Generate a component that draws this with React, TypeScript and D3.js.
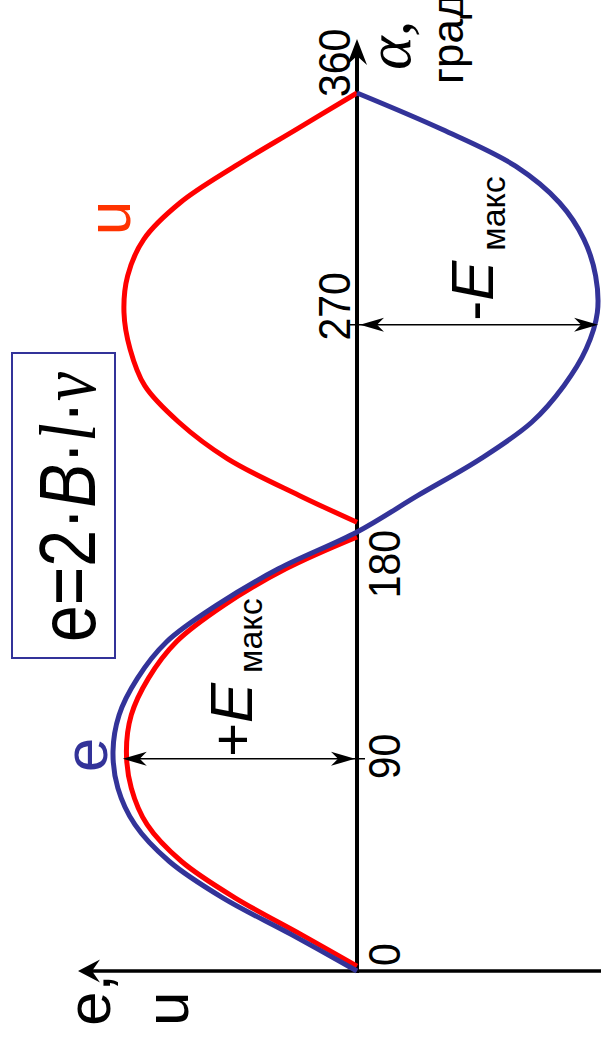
import React from "react";
import * as d3 from "d3";

// ---- data (angle in degrees, value in units of E max) ----
const eAngles = [0, 15, 30, 45, 60, 75, 90, 105, 120, 135, 150, 165, 180, 195, 210, 225, 240, 255, 270, 285, 300, 315, 330, 345, 360];
const eValues = [0, 0.27, 0.55, 0.77, 0.91, 0.98, 1.0, 0.975, 0.9, 0.78, 0.575, 0.32, 0, -0.25, -0.506, -0.716, -0.848, -0.939, -0.985, -0.978, -0.93, -0.83, -0.65, -0.35, 0];

const uAngles1 = [2, 15, 30, 45, 60, 75, 90, 105, 120, 135, 150, 165, 178];
const uValues1 = [0, 0.23, 0.5, 0.72, 0.86, 0.925, 0.945, 0.925, 0.855, 0.74, 0.545, 0.29, 0];

const uAngles2 = [184, 195, 210, 225, 240, 255, 270, 285, 300, 315, 330, 345, 360];
const uValues2 = [0, 0.237, 0.53, 0.73, 0.87, 0.93, 0.955, 0.94, 0.874, 0.725, 0.5, 0.25, 0];

const tickValues = [0, 90, 180, 270, 360];
const tickLabels = ["0", "90", "180", "270", "360"];
const tickSide = ["right", "right", "right", "left", "left"];
const tickAnchor = ["start", "middle", "end", "middle", "start"];
const tickShift = [-5, 5, -2, -6, 4];

// amplitude annotations
const ampAngles = [87, 265];
const ampValues = [0.96, -0.988];
const ampSigns = ["+", "-"];

const BLUE = "#333399";
const RED = "#ff0000";
const ORANGE = "#ff3300";
const SANS = "'Liberation Sans', Arial, Helvetica, sans-serif";
const SERIF = "'Liberation Serif', 'Times New Roman', serif";

const W = 601;
const H = 1041;

const yA = d3.scaleLinear().domain([0, 360]).range([971, 93]);
const xV = d3.scaleLinear().domain([-1, 1]).range([601, 113]);

function arrowHead(tx: number, ty: number, dx: number, dy: number, len: number, hw: number, notch: number) {
  const px = -dy, py = dx;
  const bx = tx - dx * len, by = ty - dy * len;
  const nx = tx - dx * notch, ny = ty - dy * notch;
  return `M${tx},${ty}L${bx + px * hw},${by + py * hw}L${nx},${ny}L${bx - px * hw},${by - py * hw}Z`;
}

function VText(props: any) {
  const { x, y, anchor = "middle", sx = 1, children, ...rest } = props;
  return (
    <text transform={`translate(${x},${y}) rotate(-90) scale(${sx},1)`} textAnchor={anchor} {...rest}>
      {children}
    </text>
  );
}

export default function App() {
  const line = d3
    .line<[number, number]>()
    .x((d) => xV(d[1]))
    .y((d) => yA(d[0]))
    .curve(d3.curveCatmullRom.alpha(0.5));

  const toPts = (a: number[], v: number[]) =>
    a.map((ang, i) => [ang, v[i]] as [number, number]).sort((p, q) => q[0] - p[0]);

  const ePath = line(toPts(eAngles, eValues)) || "";
  const u1Path = line(toPts(uAngles1, uValues1)) || "";
  const u2Path = line(toPts(uAngles2, uValues2)) || "";

  const x0 = xV(0);
  const yBase = yA(0);
  const axisTop = yA(360) - 54;
  const hAxisLeft = 78;

  return (
    <svg
      width={W}
      height={H}
      viewBox={`0 0 ${W} ${H}`}
      style={{ position: "absolute", left: 0, top: 0, background: "#fff" }}
    >
      {/* formula box */}
      <rect x={12} y={353} width={103} height={305} fill="none" stroke={BLUE} strokeWidth={2} />
      <text
        transform="translate(95,642) rotate(-90)"
        fontFamily={SANS}
        fontSize={80}
        fill="#000"
        textLength={270}
        lengthAdjust="spacingAndGlyphs"
      >
        <tspan>e=2·</tspan>
        <tspan fontStyle="italic">B</tspan>
        <tspan>·</tspan>
        <tspan fontFamily={SERIF} fontStyle="italic">l</tspan>
        <tspan>·</tspan>
        <tspan fontFamily={SERIF} fontStyle="italic">v</tspan>
      </text>

      {/* axes */}
      <line x1={W} y1={yBase} x2={hAxisLeft + 14} y2={yBase} stroke="#000" strokeWidth={3.3} />
      <path d={arrowHead(hAxisLeft, yBase, -1, 0, 22, 11.5, 14)} fill="#000" />
      <line x1={x0} y1={yBase + 2} x2={x0} y2={axisTop + 16} stroke="#000" strokeWidth={4} />
      <path d={arrowHead(x0, axisTop, 0, -1, 26, 10, 17)} fill="#000" />

      {/* curves */}
      <path d={u1Path} fill="none" stroke={RED} strokeWidth={5} />
      <path d={u2Path} fill="none" stroke={RED} strokeWidth={5} />
      <path d={ePath} fill="none" stroke={BLUE} strokeWidth={5} />

      {/* amplitude arrows */}
      {ampAngles.map((a, i) => {
        const yy = yA(a);
        const xs = x0 + (ampValues[i] > 0 ? -2 : 3);
        const xe = xV(ampValues[i]);
        const dir = xe < xs ? -1 : 1;
        return (
          <g key={i}>
            <line x1={xs - dir * 10} y1={yy} x2={xe - dir * 10} y2={yy} stroke="#000" strokeWidth={1.6} />
            <path d={arrowHead(xe, yy, dir, 0, 24, 7, 17)} fill="#000" />
            <path d={arrowHead(xs, yy, -dir, 0, 24, 7, 17)} fill="#000" />
          </g>
        );
      })}
      <VText x={252} y={yA(ampAngles[0]) - 2} anchor="start" fontFamily={SANS} fill="#000">
        <tspan fontSize={58}>{ampSigns[0]}</tspan>
        <tspan fontSize={60} fontStyle="italic">E</tspan>
        <tspan fontSize={34} dx={10} dy={10}>макс</tspan>
      </VText>
      <VText x={493} y={yA(ampAngles[1]) - 4} anchor="start" fontFamily={SANS} fill="#000">
        <tspan fontSize={60}>{ampSigns[1]}</tspan>
        <tspan fontSize={60} fontStyle="italic">E</tspan>
        <tspan fontSize={34} dx={10} dy={12}>макс</tspan>
      </VText>

      {/* tick labels */}
      {tickValues.map((t, i) => (
        <VText
          key={t}
          x={tickSide[i] === "right" ? 400 : 350}
          y={yA(t) + tickShift[i]}
          anchor={tickAnchor[i]}
          sx={0.93}
          fontFamily={SANS}
          fontSize={44}
          fill="#000"
        >
          {tickLabels[i]}
        </VText>
      ))}

      {/* axis titles */}
      <VText x={410} y={70} anchor="start" fontFamily={SERIF} fontStyle="italic" fontSize={64} fill="#000">
        α,
      </VText>
      <VText x={463} y={84} anchor="start" fontFamily={SANS} fontSize={44} fill="#000">
        град
      </VText>
      <VText x={110} y={1026} anchor="start" fontFamily={SANS} fontSize={62} fill="#000">
        e,
      </VText>
      <VText x={188} y={1026} anchor="start" fontFamily={SANS} fontSize={62} fill="#000">
        u
      </VText>

      {/* series labels */}
      <VText x={107} y={755} fontFamily={SANS} fontSize={62} fill={BLUE}>
        e
      </VText>
      <VText x={130} y={218} fontFamily={SANS} fontSize={62} fill={ORANGE}>
        u
      </VText>
    </svg>
  );
}
